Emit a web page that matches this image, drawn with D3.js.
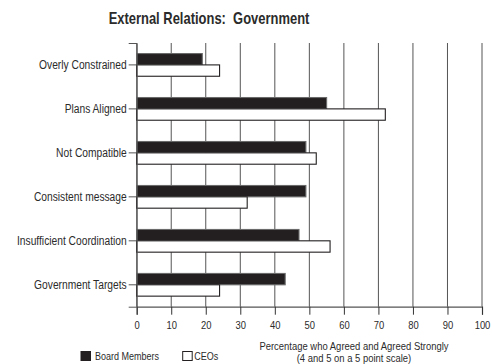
<!DOCTYPE html>
<html>
<head>
<meta charset="utf-8">
<script src="https://cdn.jsdelivr.net/npm/d3@7"></script>
<style>
  html, body { margin: 0; padding: 0; background: #fff; }
  svg { display: block; }
  text { font-family: "Liberation Sans", Arial, sans-serif; fill: #2b2b2b; }
</style>
</head>
<body>
<svg id="chart" width="492" height="364"></svg>
<script>
// Survey items, top to bottom
const categories = [
  "Overly Constrained",
  "Plans Aligned",
  "Not Compatible",
  "Consistent message",
  "Insufficient Coordination",
  "Government Targets"
];
const seriesNames = ["Board Members", "CEOs"];
const boardMembers = [19, 55, 49, 49, 47, 43];
const ceos = [24, 72, 52, 32, 56, 24];
const xTicks = [0, 10, 20, 30, 40, 50, 60, 70, 80, 90, 100];

const svg = d3.select("#chart");
const plotLeft = 136.7, plotRight = 482, plotTop = 43, plotBottom = 306.7;

// Squeeze text horizontally for a condensed face, keeping its anchor point
function narrow(sel, k = 0.82) {
  sel.each(function () {
    const t = d3.select(this);
    const px = +t.attr("x") || 0;
    t.attr("x", px / k).attr("transform", `scale(${k},1)`);
    t.selectAll("tspan").each(function () {
      const s = d3.select(this);
      if (s.attr("x") !== null) s.attr("x", +s.attr("x") / k);
    });
  });
}

const x = d3.scaleLinear().domain([0, 100]).range([plotLeft, plotRight]);
const y = d3.scaleBand().domain(categories).range([plotTop, plotBottom])
  .paddingInner(0.484).paddingOuter(0.24);
const ySub = d3.scaleBand().domain(seriesNames).range([0, y.bandwidth()]);

const fills = { "Board Members": "#231f20", "CEOs": "#ffffff" };
const strokes = { "Board Members": "#6a6a6a", "CEOs": "#231f20" };

// Title
svg.append("text")
  .attr("x", 209).attr("y", 24)
  .attr("text-anchor", "middle")
  .style("font-size", "15.8px").style("font-weight", "bold")
  .style("white-space", "pre")
  .text("External Relations:  Government")
  .call(narrow);

// Vertical grid lines
svg.append("g").selectAll("line").data(xTicks).join("line")
  .attr("x1", d => x(d)).attr("x2", d => x(d))
  .attr("y1", plotTop).attr("y2", plotBottom)
  .attr("stroke", "#555").attr("stroke-width", 1);

// Bars
const rows = categories.map((c, i) => ({ cat: c, values: [
  { name: "Board Members", v: boardMembers[i] },
  { name: "CEOs", v: ceos[i] }
]}));

const groups = svg.append("g").selectAll("g").data(rows).join("g")
  .attr("transform", d => `translate(0,${y(d.cat)})`);
groups.selectAll("rect").data(d => d.values).join("rect")
  .attr("x", x(0))
  .attr("y", d => ySub(d.name))
  .attr("width", d => x(d.v) - x(0))
  .attr("height", ySub.bandwidth())
  .attr("fill", d => fills[d.name])
  .attr("stroke", d => strokes[d.name])
  .attr("stroke-width", 1.1);

// X axis
const xAxis = svg.append("g")
  .attr("transform", `translate(0,${plotBottom})`)
  .call(d3.axisBottom(x).tickValues(xTicks).tickSize(8).tickPadding(6).tickFormat(d3.format("d")));
xAxis.select(".domain").attr("stroke", "#555").attr("stroke-width", 1.2);
xAxis.selectAll(".tick line").attr("stroke", "#333");
xAxis.selectAll(".tick text").style("font-size", "11.5px").attr("fill", "#2b2b2b").call(narrow);

// Y axis
const yAxis = svg.append("g")
  .attr("transform", `translate(${plotLeft},0)`)
  .call(d3.axisLeft(y).tickSize(8).tickPadding(2));
yAxis.select(".domain").attr("stroke", "#555").attr("stroke-width", 1);
yAxis.selectAll(".tick line").attr("stroke", "#555");
yAxis.selectAll(".tick text").style("font-size", "12.5px").attr("fill", "#2b2b2b").call(narrow);

// X axis title
const xt = svg.append("text").attr("x", 354).attr("y", 350.5)
  .attr("text-anchor", "middle").style("font-size", "11px");
xt.append("tspan").attr("x", 354).attr("dy", 0).text("Percentage who Agreed and Agreed Strongly");
xt.append("tspan").attr("x", 354).attr("dy", 12).text("(4 and 5 on a 5 point scale)");
xt.call(narrow, 0.86);

// Legend
const legend = svg.append("g").selectAll("g").data([
  { name: "Board Members", x: 81, tx: 14 },
  { name: "CEOs", x: 182.7, tx: 11.6 }
]).join("g").attr("transform", d => `translate(${d.x},351.5)`);
legend.append("rect")
  .attr("width", 9.5).attr("height", 9)
  .attr("fill", d => fills[d.name])
  .attr("stroke", "#231f20").attr("stroke-width", 1);
legend.append("text")
  .attr("x", d => d.tx).attr("y", 8.8)
  .style("font-size", "11px")
  .text(d => d.name)
  .call(narrow);
</script>
</body>
</html>
